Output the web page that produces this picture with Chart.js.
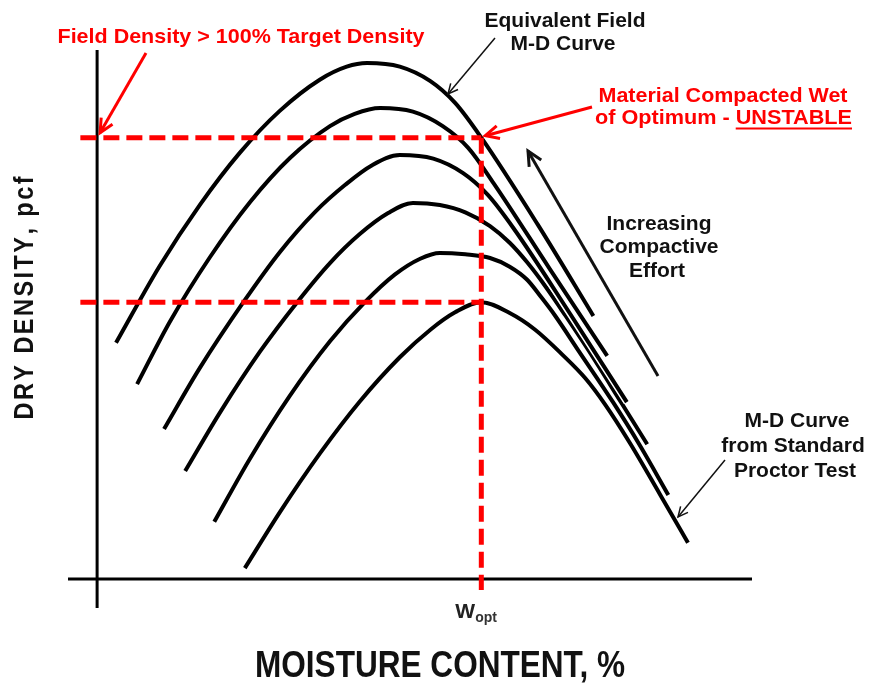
<!DOCTYPE html>
<html>
<head>
<meta charset="utf-8">
<script src="https://cdn.jsdelivr.net/npm/chart.js@4/dist/chart.umd.min.js"></script>
<style>
html, body { margin: 0; padding: 0; background: #ffffff; }
#wrap { width: 871px; height: 687px; }
</style>
</head>
<body>
<div id="wrap"><canvas id="chart" width="871" height="687"></canvas></div>
<script>
// Moisture-density curves as [moisture, dry density] pairs,
// from the highest compactive effort (field equivalent) down to the standard Proctor test.
const fieldCurve   = [[2.6,32.6],[8.6,43.2],[14.1,51.6],[19.6,58.8],[25.1,64.6],[30.6,68.9],[34.3,70.7],[37.1,71.2],[41.6,70.7],[45.8,68.7],[49.2,65.7],[52.8,60.9],[60.5,49.0],[68.2,36.3]];
const effortCurve2 = [[5.5,26.9],[10.0,35.5],[15.5,44.4],[21.0,52.0],[26.5,58.1],[32.0,62.5],[35.4,64.2],[38.9,65.0],[43.4,64.5],[47.5,62.5],[51.0,59.5],[54.5,54.6],[62.2,42.8],[70.1,30.8]];
const effortCurve3 = [[9.2,20.7],[14.1,29.1],[20.1,38.2],[25.1,45.1],[29.9,50.6],[34.1,54.4],[37.8,57.1],[41.6,58.5],[46.2,58.0],[50.3,56.0],[53.7,53.0],[57.3,48.3],[65.0,36.6],[72.8,24.4]];
const effortCurve4 = [[12.1,14.9],[16.9,23.0],[22.4,31.4],[27.5,38.2],[32.0,43.6],[36.1,47.6],[40.0,50.5],[43.4,51.9],[47.1,51.6],[50.6,50.6],[54.0,48.7],[56.7,46.4],[59.1,43.7],[61.6,40.4],[64.4,36.3],[67.5,31.6],[72.0,24.4],[75.6,18.6]];
const effortCurve5 = [[16.1,7.9],[21.0,16.6],[26.5,25.3],[32.0,32.8],[36.8,38.2],[40.9,42.0],[44.4,44.2],[47.1,45.0],[50.6,44.8],[54.0,44.3],[56.7,43.1],[59.1,41.3],[61.1,38.8],[62.9,36.4],[66.1,31.6],[70.9,24.4],[74.5,18.6],[78.5,11.6]];
const proctorCurve = [[20.3,1.5],[25.1,9.2],[30.6,17.3],[36.1,24.5],[41.6,30.6],[45.8,34.4],[49.2,36.8],[52.8,38.2],[56.7,36.7],[60.2,34.4],[64.0,30.9],[67.1,27.7],[69.8,24.1],[73.2,18.8],[77.4,11.6],[81.2,5.0]];

// Reference levels
const wOpt = 52.8;            // optimum moisture content
const fieldDensity = 60.9;    // density reached in the field
const targetDensity = 38.2;   // 100% target density (Proctor maximum)
const guideStart = -2.3;      // dashed density guides start just left of the axis
const guideEnd = -1.5;        // dashed Wopt guide stops just below the axis

// Axis extents
const moistureRange = [-4, 90];
const densityRange = [-4, 73];

const curves = [fieldCurve, effortCurve2, effortCurve3, effortCurve4, effortCurve5, proctorCurve];

const datasets = [];
curves.forEach((c, i) => {
  const pts = c.map(([x, y]) => ({ x, y }));
  // white halo keeps neighbouring curves apart where they converge
  datasets.push({ data: pts, borderColor: '#ffffff', borderWidth: 7, order: 2 * i + 1,
    pointRadius: 0, fill: false, cubicInterpolationMode: 'monotone' });
  datasets.push({ data: pts, borderColor: '#000000', borderWidth: 4, order: 2 * i,
    pointRadius: 0, fill: false, cubicInterpolationMode: 'monotone' });
});

const guideStyle = { borderColor: '#ff0000', borderWidth: 5, borderDash: [16, 7], pointRadius: 0,
  fill: false, tension: 0, order: -1 };
datasets.push(Object.assign({ data: [{ x: guideStart, y: fieldDensity }, { x: wOpt, y: fieldDensity }] }, guideStyle));
datasets.push(Object.assign({ data: [{ x: guideStart, y: targetDensity }, { x: wOpt, y: targetDensity }] }, guideStyle));
datasets.push(Object.assign({ data: [{ x: wOpt, y: fieldDensity }, { x: wOpt, y: guideEnd }] }, guideStyle));

const FONT = '"Liberation Sans", Arial, Helvetica, sans-serif';

function label(ctx, str, x, baseline, size, color, opts) {
  opts = opts || {};
  ctx.save();
  ctx.font = (opts.weight || 'bold') + ' ' + size + 'px ' + FONT;
  const w = ctx.measureText(str).width;
  const sx = opts.width ? opts.width / w : 1;
  ctx.translate(x, baseline);
  if (opts.rotate) ctx.rotate(opts.rotate);
  ctx.scale(sx, 1);
  ctx.textAlign = opts.align || 'center';
  ctx.textBaseline = 'alphabetic';
  ctx.fillStyle = color;
  ctx.fillText(str, 0, 0);
  ctx.restore();
  return w * sx;
}

// narrow glyphs spread evenly over a given length
function spacedLabel(ctx, str, cx, baseline, size, color, width, squeeze, rotate) {
  ctx.save();
  ctx.font = 'bold ' + size + 'px ' + FONT;
  ctx.fillStyle = color;
  ctx.textAlign = 'left';
  ctx.textBaseline = 'alphabetic';
  const chars = Array.from(str);
  const ws = chars.map(c => ctx.measureText(c).width * squeeze);
  const total = ws.reduce((a, b) => a + b, 0);
  const gap = (width - total) / (chars.length - 1);
  ctx.translate(cx, baseline);
  if (rotate) ctx.rotate(rotate);
  let pos = -width / 2;
  chars.forEach((c, i) => {
    ctx.save();
    ctx.translate(pos, 0);
    ctx.scale(squeeze, 1);
    ctx.fillText(c, 0, 0);
    ctx.restore();
    pos += ws[i] + gap;
  });
  ctx.restore();
}

function arrow(ctx, x0, y0, x1, y1, color, lw, head) {
  const a = Math.atan2(y1 - y0, x1 - x0);
  const spread = 0.45;
  ctx.save();
  ctx.strokeStyle = color;
  ctx.lineWidth = lw;
  ctx.lineCap = 'butt';
  ctx.lineJoin = 'miter';
  ctx.beginPath();
  ctx.moveTo(x0, y0);
  ctx.lineTo(x1, y1);
  ctx.stroke();
  ctx.beginPath();
  ctx.moveTo(x1 - head * Math.cos(a - spread), y1 - head * Math.sin(a - spread));
  ctx.lineTo(x1, y1);
  ctx.lineTo(x1 - head * Math.cos(a + spread), y1 - head * Math.sin(a + spread));
  ctx.stroke();
  ctx.restore();
}

const axisLines = {
  id: 'axisLines',
  beforeDatasetsDraw(chart) {
    const { ctx, chartArea: ca, scales: { x, y } } = chart;
    const ox = x.getPixelForValue(0), oy = y.getPixelForValue(0);
    ctx.save();
    ctx.strokeStyle = '#000000';
    ctx.lineWidth = 3;
    ctx.beginPath();
    ctx.moveTo(ox, ca.top); ctx.lineTo(ox, ca.bottom);
    ctx.moveTo(ca.left, oy); ctx.lineTo(ca.right, oy);
    ctx.stroke();
    ctx.restore();
  }
};

const notes = {
  id: 'notes',
  afterDatasetsDraw(chart) {
    const { ctx, scales: { x, y } } = chart;
    const ox = x.getPixelForValue(0);
    const wx = x.getPixelForValue(wOpt);
    const fy = y.getPixelForValue(fieldDensity);
    const red = '#ff0000', ink = '#111111';

    // red callouts
    label(ctx, 'Field Density > 100% Target Density', 241, 43, 21, red, { width: 367 });
    arrow(ctx, 146, 53, ox + 3, fy - 5, red, 3, 15);

    label(ctx, 'Material Compacted Wet', 723, 102, 21, red, { width: 249 });
    const line2 = 'of Optimum - ', unstable = 'UNSTABLE';
    ctx.save();
    ctx.font = 'bold 21px ' + FONT;
    const wPre = ctx.measureText(line2).width, wAll = ctx.measureText(line2 + unstable).width;
    ctx.restore();
    const sx = 257 / wAll, left = 723.5 - 257 / 2;
    label(ctx, line2 + unstable, left, 124, 21, red, { width: 257, align: 'left' });
    ctx.save();
    ctx.strokeStyle = red; ctx.lineWidth = 2;
    ctx.beginPath();
    ctx.moveTo(left + wPre * sx, 128.5); ctx.lineTo(left + wAll * sx, 128.5);
    ctx.stroke();
    ctx.restore();
    arrow(ctx, 592, 107, wx + 4, fy - 2, red, 3, 15);

    // black callouts
    label(ctx, 'Equivalent Field', 565, 27, 21, ink);
    label(ctx, 'M-D Curve', 563, 50, 21, ink);
    arrow(ctx, 495, 38, 448, 94, ink, 1.5, 11);

    label(ctx, 'Increasing', 659, 230, 21, ink);
    label(ctx, 'Compactive', 659, 253, 21, ink);
    label(ctx, 'Effort', 657, 277, 21, ink);
    arrow(ctx, 658, 376, 528, 151, ink, 3, 16);

    label(ctx, 'M-D Curve', 797, 427, 21, ink);
    label(ctx, 'from Standard', 793, 452, 21, ink);
    label(ctx, 'Proctor Test', 795, 477, 21, ink);
    arrow(ctx, 725, 460, 678, 517, ink, 1.5, 11);

    // optimum moisture marker
    const ww = label(ctx, 'W', wx - 26, 618, 21, '#222222', { align: 'left' });
    label(ctx, 'opt', wx - 26 + ww, 622, 14, '#333333', { align: 'left' });

    // axis titles
    label(ctx, 'MOISTURE CONTENT, %', 440, 677, 36, ink, { width: 370 });
    spacedLabel(ctx, 'DRY DENSITY, pcf', 33, 298, 28, ink, 243, 0.84, -Math.PI / 2);
  }
};

new Chart(document.getElementById('chart'), {
  type: 'line',
  data: { datasets },
  options: {
    responsive: false,
    animation: false,
    events: [],
    layout: { padding: { left: 68, right: 119, top: 50, bottom: 79 } },
    plugins: { legend: { display: false }, tooltip: { enabled: false } },
    scales: {
      x: { type: 'linear', min: moistureRange[0], max: moistureRange[1], display: false },
      y: { type: 'linear', min: densityRange[0], max: densityRange[1], display: false }
    }
  },
  plugins: [axisLines, notes]
});
</script>
</body>
</html>
